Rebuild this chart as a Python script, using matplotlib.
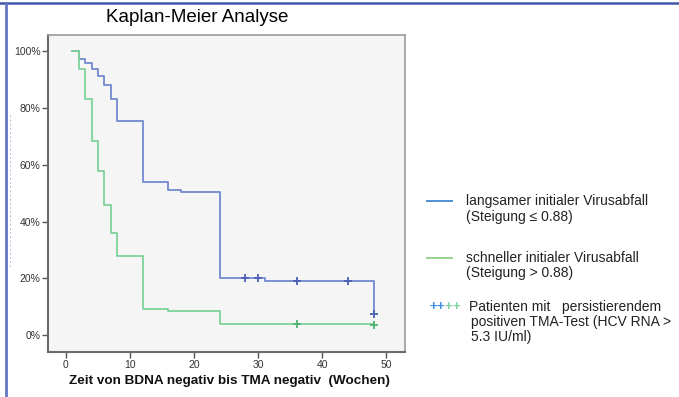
import matplotlib
matplotlib.use("Agg")
import matplotlib.pyplot as plt
from matplotlib.lines import Line2D

plt.rcParams['font.family'] = ['Liberation Sans', 'DejaVu Sans']

# ---- data ----
slow_times = [1, 2, 3, 4, 5, 6, 7, 8, 12, 16, 18, 24, 30, 31, 48]
slow_surv = [100, 97.2, 95.8, 93.8, 91.4, 88.1, 83.3, 75.6, 54.0, 51.1, 50.4, 20.3, 20.0, 19.2, 7.4]
slow_cens_t = [28, 30, 36, 44, 48]
slow_cens_s = [20.3, 20.0, 19.2, 19.2, 7.4]

fast_times = [1, 2, 3, 4, 5, 6, 7, 8, 12, 16, 24, 48]
fast_surv = [100, 93.9, 83.3, 68.4, 57.8, 45.9, 36.2, 27.8, 9.2, 8.7, 4.1, 4.1]
fast_cens_t = [36, 48]
fast_cens_s = [4.1, 3.6]

x_ticks = [0, 10, 20, 30, 40, 50]
y_ticks = [0, 20, 40, 60, 80, 100]
y_ticklabels = ["0%", "20%", "40%", "60%", "80%", "100%"]

title = "Kaplan-Meier Analyse"
xlabel = "Zeit von BDNA negativ bis TMA negativ  (Wochen)"
legend_slow = ["langsamer initialer Virusabfall", "(Steigung \u2264 0.88)"]
legend_fast = ["schneller initialer Virusabfall", "(Steigung > 0.88)"]
legend_cens = ["Patienten mit   persistierendem", "positiven TMA-Test (HCV RNA >", "5.3 IU/ml)"]

# ---- figure ----
W, H = 679, 397
fig = plt.figure(figsize=(W / 100, H / 100), dpi=100)
fig.patch.set_facecolor('white')

def fx(px):
    return px / W

def fy(py):
    return 1 - py / H

ax = fig.add_axes([fx(48), fy(352), fx(405) - fx(48), fy(35) - fy(352)])
ax.set_facecolor('#f5f5f5')

blue = '#7189cf'
blue_dark = '#4a60b5'
green = '#7ed39c'
green_dark = '#4fb36f'

ax.step(slow_times, slow_surv, where='post', color=blue, lw=1.3)
ax.step(fast_times, fast_surv, where='post', color=green, lw=1.3)
ax.plot(slow_cens_t, slow_cens_s, ls='none', marker='+', ms=6, mew=1.3, color=blue_dark)
ax.plot(fast_cens_t, fast_cens_s, ls='none', marker='+', ms=6, mew=1.3, color=green_dark)

ax.set_xlim(-2.8, 52.9)
ax.set_ylim(-5.9, 105.8)
ax.set_xticks(x_ticks)
ax.set_yticks(y_ticks)
ax.set_yticklabels(y_ticklabels)
ax.tick_params(axis='both', direction='out', length=4, width=1, color='#555555',
               labelsize=7.5, labelcolor='#333333', pad=1.5)
for side, sp in ax.spines.items():
    if side in ('left', 'bottom'):
        sp.set_color('#6a6a6a')
        sp.set_linewidth(1.5)
    else:
        sp.set_color('#9a9a9a')
        sp.set_linewidth(1.2)

fig.text(fx(229), fy(381), xlabel, fontsize=9.7, fontweight='bold', ha='center', va='center',
         color='#111111')

fig.text(fx(197), fy(18), title, fontsize=13.5, ha='center', va='center')

# figure border lines
fig.add_artist(Line2D([0, 1], [fy(3), fy(3)], color='#3f56a8', lw=1.8, transform=fig.transFigure))
fig.add_artist(Line2D([fx(6), fx(6)], [0, fy(3)], color='#6577c4', lw=2.0, transform=fig.transFigure))
fig.add_artist(Line2D([fx(9.5), fx(9.5)], [fy(115), fy(268)], color='#a0a8d0', lw=0.6,
                      ls=(0, (2, 3)), transform=fig.transFigure))

# legend
fs = 10
fig.add_artist(Line2D([fx(427), fx(452)], [fy(201), fy(201)], color='#4f8fd4', lw=1.4,
                      transform=fig.transFigure))
fig.text(fx(466), fy(201), legend_slow[0], fontsize=fs, va='center', ha='left', color='#222222')
fig.text(fx(466), fy(216.5), legend_slow[1], fontsize=fs, va='center', ha='left', color='#222222')

fig.add_artist(Line2D([fx(427), fx(452)], [fy(258), fy(258)], color='#98d28c', lw=1.4,
                      transform=fig.transFigure))
fig.text(fx(466), fy(258), legend_fast[0], fontsize=fs, va='center', ha='left', color='#222222')
fig.text(fx(466), fy(273.5), legend_fast[1], fontsize=fs, va='center', ha='left', color='#222222')

plus_cols = ['#3d8fe0', '#3d8fe0', '#7ed39c', '#7ed39c']
for i, c in enumerate(plus_cols):
    fig.text(fx(433 + i * 7.7), fy(307), '+', fontsize=9.5, color=c, ha='center', va='center',
             fontweight='bold')
fig.text(fx(469), fy(307), legend_cens[0], fontsize=fs, va='center', ha='left', color='#222222')
fig.text(fx(471), fy(322), legend_cens[1], fontsize=fs, va='center', ha='left', color='#222222')
fig.text(fx(471), fy(337), legend_cens[2], fontsize=fs, va='center', ha='left', color='#222222')

fig.savefig('out.png', dpi=100)
